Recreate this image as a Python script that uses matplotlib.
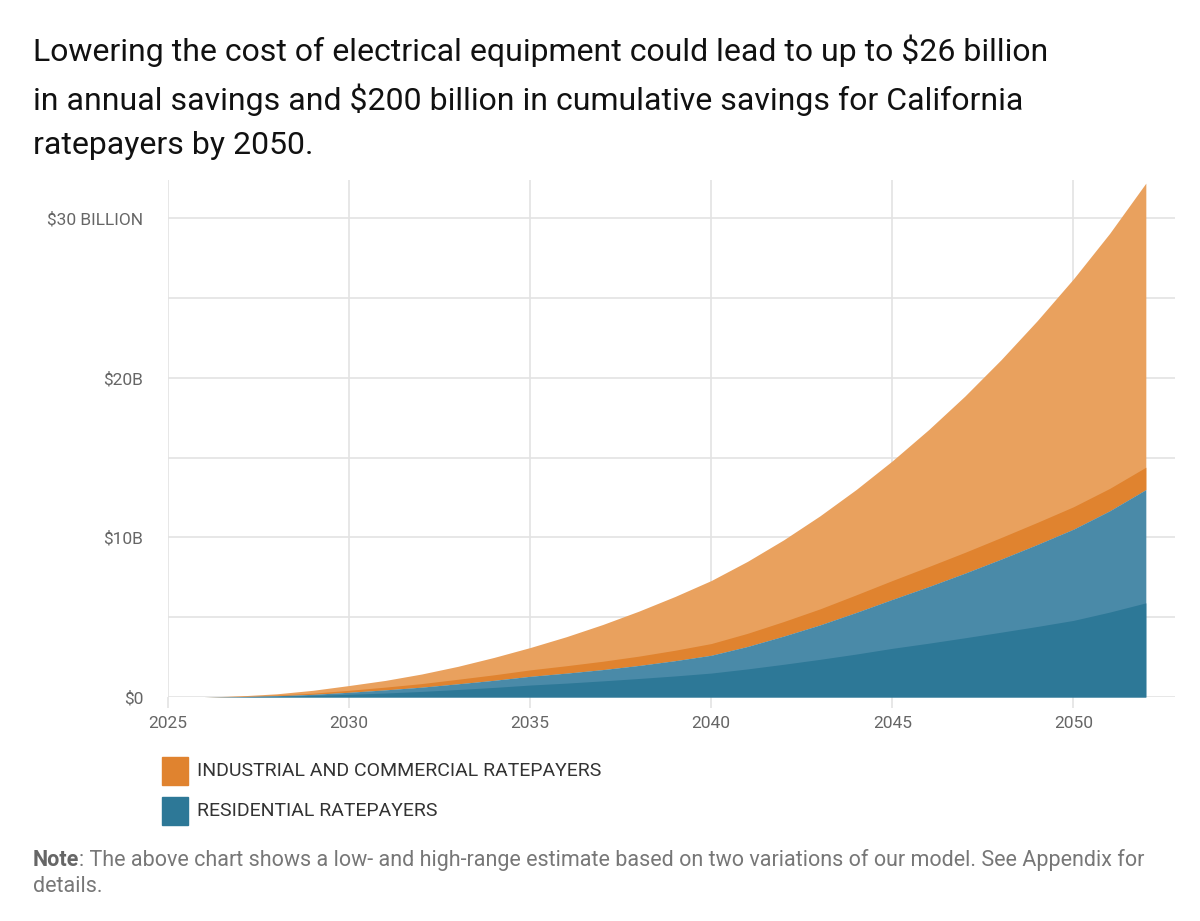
import numpy as np
import matplotlib
matplotlib.use("Agg")
import matplotlib.pyplot as plt
from matplotlib.patches import Rectangle

# annual savings, $ billion
years = [2026, 2027, 2028, 2029, 2030, 2031, 2032, 2033, 2034, 2035, 2036, 2037, 2038, 2039,
         2040, 2041, 2042, 2043, 2044, 2045, 2046, 2047, 2048, 2049, 2050, 2051, 2052]
res_low = [0, 0.02, 0.05, 0.1, 0.17, 0.25, 0.35, 0.47, 0.6, 0.75, 0.87, 1.01, 1.16, 1.32,
           1.5, 1.76, 2.05, 2.36, 2.69, 3.05, 3.37, 3.71, 4.06, 4.42, 4.8, 5.32, 5.9]
res_high = [0, 0.03, 0.08, 0.17, 0.3, 0.45, 0.62, 0.83, 1.05, 1.3, 1.5, 1.72, 1.98, 2.28,
            2.62, 3.17, 3.82, 4.52, 5.3, 6.12, 6.92, 7.76, 8.64, 9.56, 10.52, 11.67, 13.0]
total_low = [0, 0.05, 0.12, 0.24, 0.42, 0.62, 0.84, 1.11, 1.39, 1.7, 1.96, 2.24, 2.56, 2.93,
             3.35, 3.99, 4.73, 5.52, 6.4, 7.3, 8.17, 9.06, 9.99, 10.94, 11.92, 13.07, 14.4]
total_high = [0, 0.07, 0.2, 0.42, 0.72, 1.04, 1.44, 1.92, 2.48, 3.1, 3.78, 4.54, 5.38, 6.3,
              7.3, 8.5, 9.85, 11.35, 13.0, 14.8, 16.75, 18.85, 21.13, 23.58, 26.2, 29.05, 32.2]

ytick_vals = [0, 10, 20, 30]
ytick_labels = ["$0", "$10B", "$20B", "$30 BILLION"]
xtick_vals = [2025, 2030, 2035, 2040, 2045, 2050]
legend_labels = ["INDUSTRIAL AND COMMERCIAL RATEPAYERS", "RESIDENTIAL RATEPAYERS"]

title = ("Lowering the cost of electrical equipment could lead to up to $26 billion\n"
         "in annual savings and $200 billion in cumulative savings for California\n"
         "ratepayers by 2050.")

ORANGE_LIGHT = "#e9a15e"
ORANGE_DARK = "#e0832f"
BLUE_LIGHT = "#4a8aa8"
BLUE_DARK = "#2d7897"
GRID = "#e3e3e3"

plt.rcParams['font.family'] = ["Roboto", "DejaVu Sans"]

fig = plt.figure(figsize=(12, 9.21), dpi=100)
ax = fig.add_axes([0.14, 0.2432, 0.839, 0.5614])

y = np.array(years)
ax.fill_between(y, res_high, total_high, color=ORANGE_LIGHT, lw=0, zorder=3)
ax.fill_between(y, res_high, total_low, color=ORANGE_DARK, lw=0, zorder=4)
ax.fill_between(y, 0, res_high, color=BLUE_LIGHT, lw=0, zorder=5)
ax.fill_between(y, 0, res_low, color=BLUE_DARK, lw=0, zorder=6)

ax.set_xlim(2025, 2052.8)
ax.set_ylim(0, 32.4)
ax.set_yticks(np.arange(0, 31, 5))
ax.set_yticklabels([ytick_labels[ytick_vals.index(v)] if v in ytick_vals else "" for v in range(0, 31, 5)])
ax.set_xticks(xtick_vals)
ax.grid(True, color=GRID, lw=1.2, zorder=0)
for s in ax.spines.values():
    s.set_visible(False)
ax.tick_params(axis='y', length=0, pad=18, labelsize=12.5, labelcolor="#666666")
ax.tick_params(axis='x', length=8, width=1.2, color=GRID, pad=6, labelsize=12.5, labelcolor="#666666")

fig.text(0.0275, 0.962, title, fontsize=23, color="#111111", va='top', ha='left',
         linespacing=1.62)

# legend
colors = [ORANGE_DARK, BLUE_DARK]
for i, (lab, c) in enumerate(zip(legend_labels, colors)):
    yc = 1 - (771 + 40 * i) / 921
    fig.patches.append(Rectangle((162 / 1200, yc - 14 / 921), 26 / 1200, 28 / 921,
                                 transform=fig.transFigure, color=c))
    fig.text(197 / 1200, yc, lab, fontsize=14, color="#333333", va='center', ha='left')

# note
r = fig.canvas.get_renderer()
t = fig.text(33 / 1200, 1 - 860 / 921, "Note", fontsize=15.5, color="#666666",
             fontweight='bold', va='center', ha='left')
bb = t.get_window_extent(r)
fig.text(bb.x1 / 1200, 1 - 860 / 921,
         ": The above chart shows a low- and high-range estimate based on two variations of our model. See Appendix for",
         fontsize=15.5, color="#777777", va='center', ha='left')
fig.text(33 / 1200, 1 - 886 / 921, "details.", fontsize=15.5, color="#777777", va='center', ha='left')

fig.savefig("out.png", dpi=100)
